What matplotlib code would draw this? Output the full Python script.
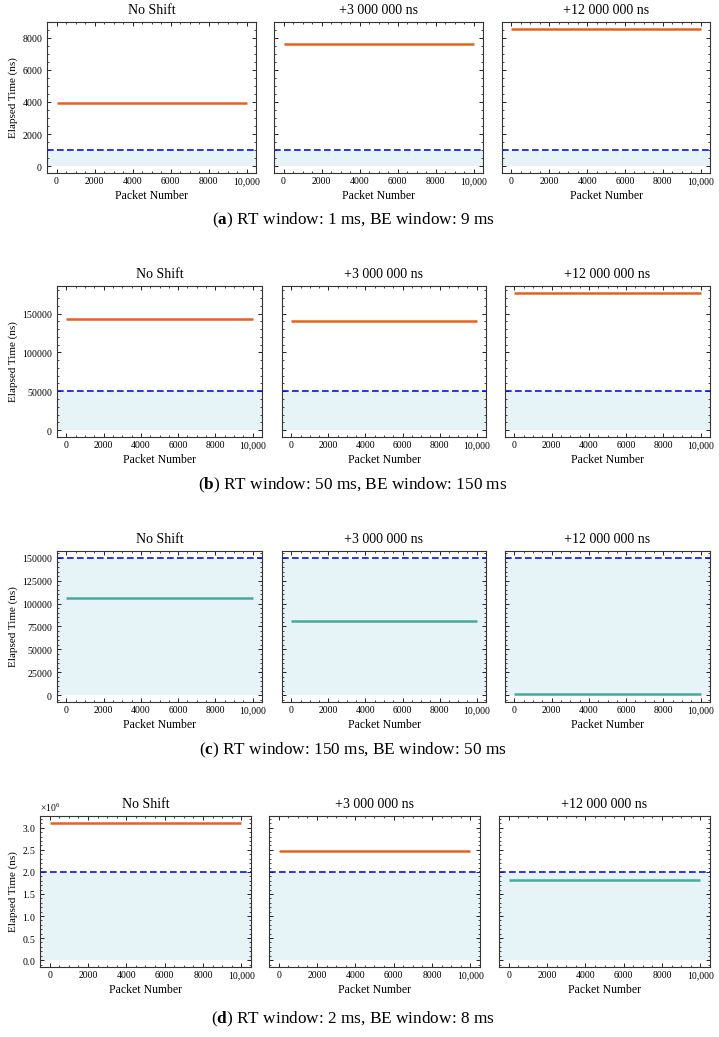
import matplotlib
matplotlib.use("Agg")
import matplotlib.pyplot as plt
from matplotlib.ticker import AutoMinorLocator, FuncFormatter, MultipleLocator

# ---------------- data ----------------
panel_titles = ["No Shift", "+3 000 000 ns", "+12 000 000 ns"]
captions = [
    ("a", "RT window: 1 ms, BE window: 9 ms"),
    ("b", "RT window: 50 ms, BE window: 150 ms"),
    ("c", "RT window: 150 ms, BE window: 50 ms"),
    ("d", "RT window: 2 ms, BE window: 8 ms"),
]
packet_range = [0, 10000]
# RT window threshold (dashed line) per row, in ns
rt_threshold = [1000, 50000, 150000, 2.0e6]
# elapsed time per panel (row x shift)
elapsed = [
    [3920, 7600, 8560],
    [143000, 140000, 176600],
    [106500, 81000, 1200],
    [3.113e6, 2.466e6, 1.81e6],
]
xticks = [0, 2000, 4000, 6000, 8000, 10000]

# ---------------- style ----------------
plt.rcParams.update({
    "font.family": ["Liberation Serif", "DejaVu Serif"],
    "mathtext.fontset": "custom",
    "mathtext.rm": "Liberation Serif",
    "mathtext.bf": "Liberation Serif:bold",
    "mathtext.it": "Liberation Serif:italic",
    "axes.linewidth": 0.8,
    "axes.edgecolor": "#333333",
    "xtick.direction": "in",
    "ytick.direction": "in",
    "xtick.top": True,
    "ytick.right": True,
    "xtick.major.size": 3,
    "ytick.major.size": 3,
    "xtick.minor.size": 1.6,
    "ytick.minor.size": 1.6,
    "xtick.major.width": 0.6,
    "ytick.major.width": 0.6,
    "xtick.minor.width": 0.5,
    "ytick.minor.width": 0.5,
    "xtick.labelsize": 7,
    "ytick.labelsize": 7,
    "axes.formatter.use_mathtext": True,
})

ORANGE = "#E8601C"
GREEN = "#44AA99"
BLUE = "#1010E8"
FILL = "#ADD8E6"

W, H = 719, 1037
fig = plt.figure(figsize=(W / 100, H / 100), dpi=100)

# pixel boxes (left, right) per row and (top, bottom) per row
row_x = [
    [(47, 256), (274, 483), (502, 710)],
    [(57, 262), (282, 486), (505, 710)],
    [(57, 262), (282, 486), (505, 710)],
    [(40, 251), (269, 480), (499, 710)],
]
PANEL_H = 151
row_top = [22, 286, 551, 816]
caption_y = [220, 485, 750, 1019]


def xfmt(v, pos):
    return f"{v:,.0f}" if v >= 10000 else f"{v:.0f}"


for r in range(4):
    top = row_top[r]
    bot = top + PANEL_H
    first = None
    for c in range(3):
        l, rr = row_x[r][c]
        ax = fig.add_axes([l / W, 1 - bot / H, (rr - l) / W, (bot - top) / H],
                          sharey=first)
        if first is None:
            first = ax
        val = elapsed[r][c]
        thr = rt_threshold[r]
        color = ORANGE if val > thr else GREEN
        ax.axhspan(0, thr, color=FILL, alpha=0.3, lw=0)
        ax.axhline(thr, color=BLUE, ls="--", lw=1.2, dashes=(4, 2))
        ax.plot(packet_range, [val, val], color=color, lw=1.8,
                solid_capstyle="butt")
        ax.update_datalim([[packet_range[0], 0], [packet_range[1], thr]])
        ax.autoscale_view()
        ax.set_xticks(xticks)
        ax.xaxis.set_major_formatter(FuncFormatter(xfmt))
        ax.xaxis.set_minor_locator(AutoMinorLocator())
        ax.yaxis.set_minor_locator(AutoMinorLocator())
        ax.set_title(panel_titles[c], fontsize=10, pad=6)
        ax.set_xlabel("Packet Number", fontsize=8.5, labelpad=3)
        if c == 0:
            ax.set_ylabel("Elapsed Time (ns)", fontsize=8, labelpad=3)
        else:
            ax.tick_params(axis="y", labelleft=False)
        if r == 1:
            ax.yaxis.set_major_locator(MultipleLocator(50000))
        if r == 2:
            ax.yaxis.set_major_locator(MultipleLocator(25000))
        if r == 3:
            ax.yaxis.set_major_locator(MultipleLocator(0.5e6))
        ax.tick_params(axis="both", pad=3)

    letter, text = captions[r]
    fig.text(353 / W, 1 - caption_y[r] / H,
             r"($\mathbf{" + letter + r"}$) " + text,
             ha="center", va="center", fontsize=12.4)

fig.savefig("out.png", dpi=100)
